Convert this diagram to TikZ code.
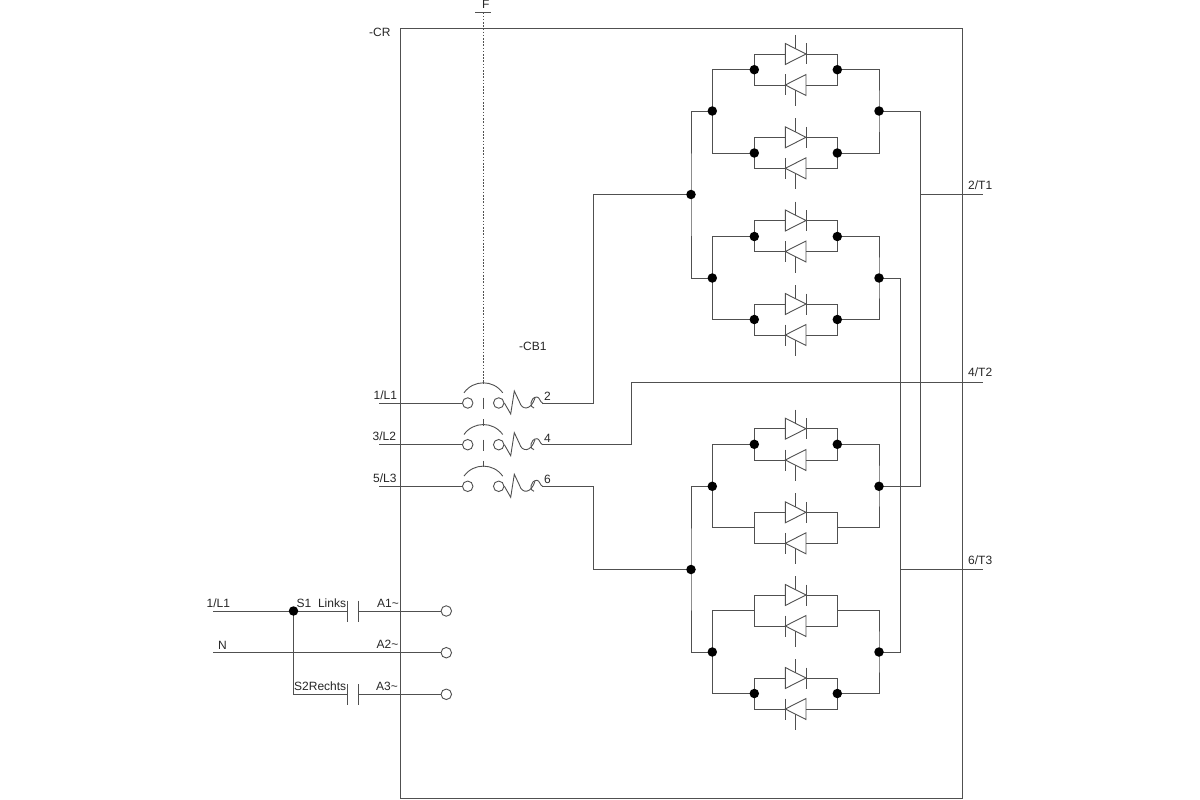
\documentclass[tikz,border=0pt]{standalone}
\usepackage{fontspec}
\setmainfont{Liberation Sans}
\definecolor{wire}{HTML}{505050}
\tikzset{
  wireline/.style={draw=wire,line width=0.9pt,line join=miter},
  thin wire/.style={draw=wire,line width=0.75pt},
  dashwire/.style={draw=wire,line width=0.7pt,dash pattern=on 1.6pt off 1.6pt},
  dot/.style={circle,fill=black,draw=none,inner sep=0pt,minimum size=9.5pt},
  term/.style={circle,draw=wire,fill=white,line width=0.9pt,inner sep=0pt,minimum size=10.5pt},
  lbl/.style={inner sep=0pt,anchor=base west,font=\fontsize{12}{13}\selectfont,text=black!85},
}
\newcommand{\thycell}[4]{%
  \coordinate (#1L) at (754.3,#2);
  \coordinate (#1R) at (837.3,#2);
  \draw[wireline] (#1L) -- (754.3,#3) -- (785.3,#3);
  \draw[wireline] (806,#3) -- (837.3,#3) -- (#1R);
  \draw[wireline] (#1L) -- (754.3,#4) -- (785.3,#4);
  \draw[wireline] (806,#4) -- (837.3,#4) -- (#1R);
  \draw[wireline] (785.3,#3-10.5) -- (785.3,#3+10.5) -- (806,#3) -- cycle;
  \draw[wireline] (806,#3-10.5) -- (806,#3+10.5);
  \draw[wireline] (795.7,#3-19) -- (795.7,#3-5.3);
  \draw[wireline] (806,#4-10.5) -- (806,#4+10.5) -- (785.3,#4) -- cycle;
  \draw[wireline] (785.3,#4-10.5) -- (785.3,#4+10.5);
  \draw[wireline] (795.7,#4+5.3) -- (795.7,#4+21);
}
\newcommand{\breaker}[2]{%
  \node[term] (#1a) at (467.7,#2) {};
  \node[term] (#1b) at (498.7,#2) {};
  \draw[wireline] (#1b.east) -- (510.7,#2+11) -- (514.3,#2-12) -- (519.5,#2-1)
    .. controls (522,#2+7.5) and (531,#2+7.5) .. (535,#2-5);
  \draw[wireline] (534,#2+5)
    .. controls (529,#2+5) and (530,#2-6) .. (537,#2-6)
    .. controls (539.5,#2-6) and (540,#2-1) .. (542.5,#2);
}
\begin{document}
\begin{tikzpicture}[x=1pt,y=-1pt]
\useasboundingbox (0,0) rectangle (1200,800);
% enclosure
\draw[wireline] (400.5,28) rectangle (962,798);
\node[lbl] (crlabel) at (369,37) {-CR};
% F
\coordinate (fa) at (475,12.5);
\coordinate (fb) at (491,12.5);
\coordinate (fc) at (483,12.5);
\coordinate (fd) at (483,382.5);
\draw[thin wire] (fa) -- (fb);
\draw[dashwire] (fc) -- (fd);
\node[lbl] (flabel) at (482,9) {F};
\node[lbl] (cblabel) at (519,350) {-CB1};
% breakers
\breaker{p}{403}
\breaker{q}{444.7}
\breaker{r}{486.3}
\foreach \y in {403,444.7,486.3}{
  \draw[wireline] (464,\y-10.2) .. controls (473.4,\y-23.5) and (493.3,\y-23.5) .. (502.7,\y-10.2);
}
\draw[wireline] (483,380) -- (483,384);
\draw[wireline] (483,397.5) -- (483,408.5);
\draw[wireline] (483,419) -- (483,425.5);
\draw[wireline] (483,439.5) -- (483,450.5);
\draw[wireline] (483,460.5) -- (483,467);
% inputs
\coordinate (l1) at (379,403);
\coordinate (l2) at (379,444.7);
\coordinate (l3) at (379,486.3);
\draw[wireline] (l1) -- (pa);
\draw[wireline] (l2) -- (qa);
\draw[wireline] (l3) -- (ra);
\node[lbl] at (373.5,399) {1/L1};
\node[lbl] at (372.5,440.5) {3/L2};
\node[lbl] at (373,482) {5/L3};
\node[lbl] at (544,400.5) {2};
\node[lbl] at (544,442) {4};
\node[lbl] at (544,483) {6};
% thyristor cells
\thycell{a}{69.7}{54}{85}
\thycell{b}{153}{137.3}{168.3}
\thycell{c}{236.5}{220.5}{251.5}
\thycell{d}{319.5}{304}{335}
\thycell{e}{444.3}{428.7}{460}
\thycell{f}{527.7}{512.3}{543.3}
\thycell{g}{610.5}{595}{626}
\thycell{h}{693.5}{678}{709}
% junctions
\coordinate (m1) at (712.3,111);
\coordinate (n1) at (879,111);
\coordinate (m2) at (712.3,278);
\coordinate (n2) at (879,278);
\coordinate (m3) at (712.3,486.3);
\coordinate (n3) at (879,486.3);
\coordinate (m4) at (712.3,652);
\coordinate (n4) at (879,652);
\coordinate (s1) at (691,194.5);
\coordinate (s2) at (691,569.5);
\draw[wireline] (aL) -| (m1) |- (bL);
\draw[wireline] (aR) -| (n1) |- (bR);
\draw[wireline] (cL) -| (m2) |- (dL);
\draw[wireline] (cR) -| (n2) |- (dR);
\draw[wireline] (eL) -| (m3) |- (fL);
\draw[wireline] (eR) -| (n3) |- (fR);
\draw[wireline] (gL) -| (m4) |- (hL);
\draw[wireline] (gR) -| (n4) |- (hR);
\draw[wireline] (m1) -| (s1) |- (m2);
\draw[wireline] (m3) -| (s2) |- (m4);
% outputs of the breakers
\coordinate (c1) at (542,403);
\coordinate (c2) at (542,444.7);
\coordinate (c3) at (542,486.3);
\draw[wireline] (c1) -- (593.5,403) |- (s1);
\draw[wireline] (c3) -- (593.5,486.3) |- (s2);
\coordinate (t2) at (983,382);
\draw[thin wire] (c2) -- (631,444.7) |- (t2);
% motor outputs
\coordinate (t1) at (983,194.5);
\coordinate (t3) at (983,569.5);
\coordinate (j1) at (920.5,194.5);
\coordinate (j3) at (900.5,569.5);
\draw[thin wire] (n1) -- (920.5,111) |- (n3);
\draw[thin wire] (n2) -- (900.5,278) |- (n4);
\draw[thin wire] (j1) -- (t1);
\draw[thin wire] (j3) -- (t3);
\node[lbl] at (968,189) {2/T1};
\node[lbl] at (968,376) {4/T2};
\node[lbl] at (968,564) {6/T3};
% control
\node[term] (a1) at (446.3,611) {};
\node[term] (a2) at (446.3,652.7) {};
\node[term] (a3) at (446.3,694.3) {};
\coordinate (js) at (293.5,611);
\coordinate (in1) at (213,611);
\coordinate (in2) at (213,652.7);
\coordinate (k1a) at (347.7,611);
\coordinate (k1b) at (358.3,611);
\coordinate (k3a) at (347.7,694.3);
\coordinate (k3b) at (358.3,694.3);
\draw[wireline] (in1) -- (k1a);
\draw[wireline] (k1b) -- (a1);
\draw[wireline] (in2) -- (a2);
\draw[wireline] (js) |- (k3a);
\draw[wireline] (k3b) -- (a3);
\draw[wireline] (347.7,600.5) -- (347.7,621.5);
\draw[wireline] (358.3,600.5) -- (358.3,621.5);
\draw[wireline] (347.7,684) -- (347.7,705);
\draw[wireline] (358.3,684) -- (358.3,705);
\node[lbl] at (206.5,607) {1/L1};
\node[lbl] at (218,649) {N};
\node[lbl] at (296.5,607) {S1 \ Links};
\node[lbl] at (294,690) {S2Rechts};
\node[lbl] at (377,607) {A1\char"007E};
\node[lbl] at (376.5,648) {A2\char"007E};
\node[lbl] at (376,690) {A3\char"007E};
% dots on top of the wires
\foreach \c in {a,b,c,d,e,h}{
  \node[dot] (\c Ldot) at (\c L) {};
  \node[dot] (\c Rdot) at (\c R) {};
}
\foreach \c in {m1,n1,m2,n2,m3,n3,m4,n4,s1,s2,js}{
  \node[dot] (\c dot) at (\c) {};
}
\end{tikzpicture}
\end{document}
